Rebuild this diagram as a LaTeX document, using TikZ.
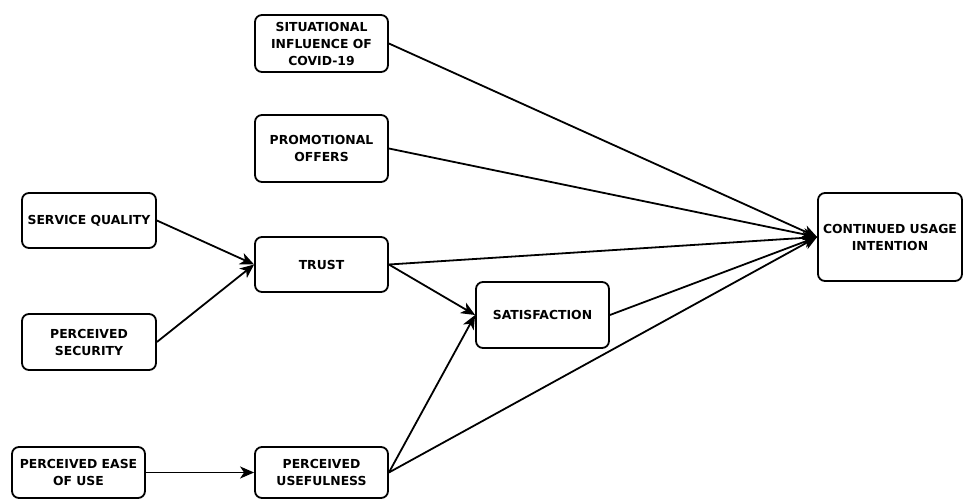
\documentclass[tikz,border=0pt]{standalone}
\usepackage{fontspec}
\setmainfont{DejaVu Sans}
\usetikzlibrary{arrows.meta}
\newcommand{\unitsize}{1pt}
\tikzset{
	factor/.style={draw, line width=1.8pt, rounded corners=7pt, align=center,
		inner sep=0pt, font=\bfseries\fontsize{12.4}{17}\selectfont},
	link/.style={line width=1.8pt, -{Stealth[length=14pt,width=12pt,inset=4pt]}}
}
\newcommand{\makefactor}[6]{
	\node[factor, minimum width=#4, minimum height=#5] (#1) at (#2,#3) {#6};
}

\begin{document}
\begin{tikzpicture}[x=\unitsize,y=-\unitsize]
	\useasboundingbox (0,0) rectangle (965,500);

	\makefactor{SIC}{321.5}{43.5}{133}{57}{SITUATIONAL\\INFLUENCE OF\\COVID-19}
	\makefactor{PO}{321.5}{148.5}{133}{67}{PROMOTIONAL\\OFFERS}
	\makefactor{SQ}{89}{220.5}{134}{55}{SERVICE QUALITY}
	\makefactor{TR}{321.5}{264.5}{133}{55}{TRUST}
	\makefactor{PS}{89}{342}{134}{56}{PERCEIVED\\SECURITY}
	\makefactor{SAT}{542.5}{315}{133}{66}{SATISFACTION}
	\makefactor{CUI}{890}{237}{144}{88}{CONTINUED USAGE\\INTENTION}
	\makefactor{PEOU}{78.5}{472.5}{133}{51}{PERCEIVED EASE\\OF USE}
	\makefactor{PU}{321.5}{472.5}{133}{51}{PERCEIVED\\USEFULNESS}

	\draw[link] (SQ.east) -- (TR.west);
	\draw[link] (PS.east) -- (TR.west);
	\draw[link] (PEOU.east) -- (PU.west);
	\draw[link] (TR.east) -- (SAT.west);
	\draw[link] (PU.east) -- (SAT.west);
	\draw[link] (SIC.east) -- (CUI.west);
	\draw[link] (PO.east) -- (CUI.west);
	\draw[link] (TR.east) -- (CUI.west);
	\draw[link] (SAT.east) -- (CUI.west);
	\draw[link] (PU.east) -- (CUI.west);
\end{tikzpicture}
\end{document}
